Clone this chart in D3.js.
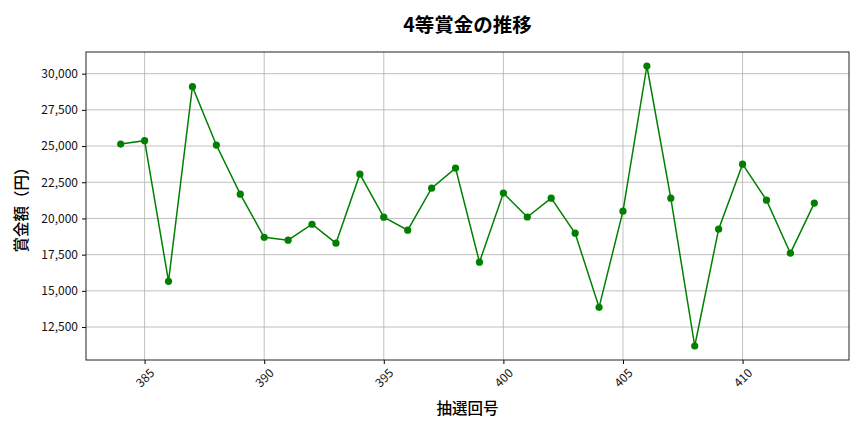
<!DOCTYPE html>
<html>
<head>
<meta charset="utf-8">
<script src="https://cdn.jsdelivr.net/npm/d3@7"></script>
<style>
  body { margin: 0; background: #fff; }
  text { font-family: "Noto Sans CJK JP", "Noto Sans", sans-serif; }
</style>
</head>
<body>
<div id="chart"></div>
<script>
// draw numbers 384..413
var draws = [384, 385, 386, 387, 388, 389, 390, 391, 392, 393,
             394, 395, 396, 397, 398, 399, 400, 401, 402, 403,
             404, 405, 406, 407, 408, 409, 410, 411, 412, 413];
// 4th prize amounts (yen)
var prizes = [25140, 25370, 15660, 29100, 25070, 21680, 18700, 18500, 19600, 18290,
              23060, 20090, 19190, 22090, 23480, 16980, 21750, 20100, 21400, 18980,
              13860, 20500, 30530, 21400, 11190, 19260, 23750, 21260, 17600, 21060];
var xTicks = [385, 390, 395, 400, 405, 410];
var yTicks = [12500, 15000, 17500, 20000, 22500, 25000, 27500, 30000];

var W = 864, H = 432;
var margin = {top: 52, right: 15, bottom: 72, left: 86};
var width = W - margin.left - margin.right,
    height = H - margin.top - margin.bottom;

var svg = d3.select('#chart')
  .append('svg')
    .attr('width', W)
    .attr('height', H);

var g = svg.append('g')
    .attr('transform', 'translate(' + margin.left + ',' + margin.top + ')');

// matplotlib-ish 5% margins
var xPad = (d3.max(draws) - d3.min(draws)) * 0.05,
    yPad = (d3.max(prizes) - d3.min(prizes)) * 0.05;

var x = d3.scaleLinear()
    .domain([d3.min(draws) - xPad, d3.max(draws) + xPad])
    .range([0, width]);
var y = d3.scaleLinear()
    .domain([d3.min(prizes) - yPad, d3.max(prizes) + yPad])
    .range([height, 0]);

// grid
g.append('g').selectAll('line').data(xTicks).enter().append('line')
    .attr('x1', d => x(d)).attr('x2', d => x(d))
    .attr('y1', 0).attr('y2', height)
    .attr('stroke', '#b0b0b0').attr('stroke-width', 0.8);
g.append('g').selectAll('line').data(yTicks).enter().append('line')
    .attr('x1', 0).attr('x2', width)
    .attr('y1', d => y(d)).attr('y2', d => y(d))
    .attr('stroke', '#b0b0b0').attr('stroke-width', 0.8);

// axes
var xAxis = g.append('g')
    .attr('transform', 'translate(0,' + height + ')')
    .call(d3.axisBottom(x).tickValues(xTicks).tickSize(4).tickPadding(3).tickFormat(d3.format('d')));
xAxis.select('.domain').remove();
xAxis.selectAll('text')
    .style('font-size', '12px')
    .attr('fill', '#111')
    .attr('text-anchor', 'middle')
    .attr('y', 0).attr('dy', '0.35em')
    .attr('transform', 'translate(0,18) rotate(-45)');

var yAxis = g.append('g')
    .call(d3.axisLeft(y).tickValues(yTicks).tickSize(4).tickPadding(4).tickFormat(d3.format(',')));
yAxis.select('.domain').remove();
yAxis.selectAll('text')
    .style('font-size', '12px')
    .attr('fill', '#111');

// frame
g.append('rect')
    .attr('width', width).attr('height', height)
    .attr('fill', 'none').attr('stroke', '#222').attr('stroke-width', 1);

// line + markers
var line = d3.line()
    .x((d, i) => x(draws[i]))
    .y(d => y(d));

g.append('path')
    .datum(prizes)
    .attr('d', line)
    .attr('fill', 'none')
    .attr('stroke', 'green')
    .attr('stroke-width', 1.5);

g.selectAll('circle.pt')
    .data(prizes)
  .enter().append('circle')
    .attr('class', 'pt')
    .attr('cx', (d, i) => x(draws[i]))
    .attr('cy', d => y(d))
    .attr('r', 3.6)
    .attr('fill', 'green');

// title and labels
svg.append('text')
    .attr('x', margin.left + width / 2)
    .attr('y', 32)
    .attr('text-anchor', 'middle')
    .style('font-size', '19.5px')
    .style('font-weight', 'bold')
    .text('4等賞金の推移');

svg.append('text')
    .attr('x', margin.left + width / 2)
    .attr('y', 414)
    .attr('text-anchor', 'middle')
    .style('font-size', '15.5px')
    .style('font-weight', 500)
    .text('抽選回号');

svg.append('text')
    .attr('transform', 'translate(27,' + (margin.top + height / 2) + ') rotate(-90)')
    .attr('text-anchor', 'middle')
    .style('font-size', '15.5px')
    .style('font-weight', 500)
    .text('賞金額（円）');
</script>
</body>
</html>
